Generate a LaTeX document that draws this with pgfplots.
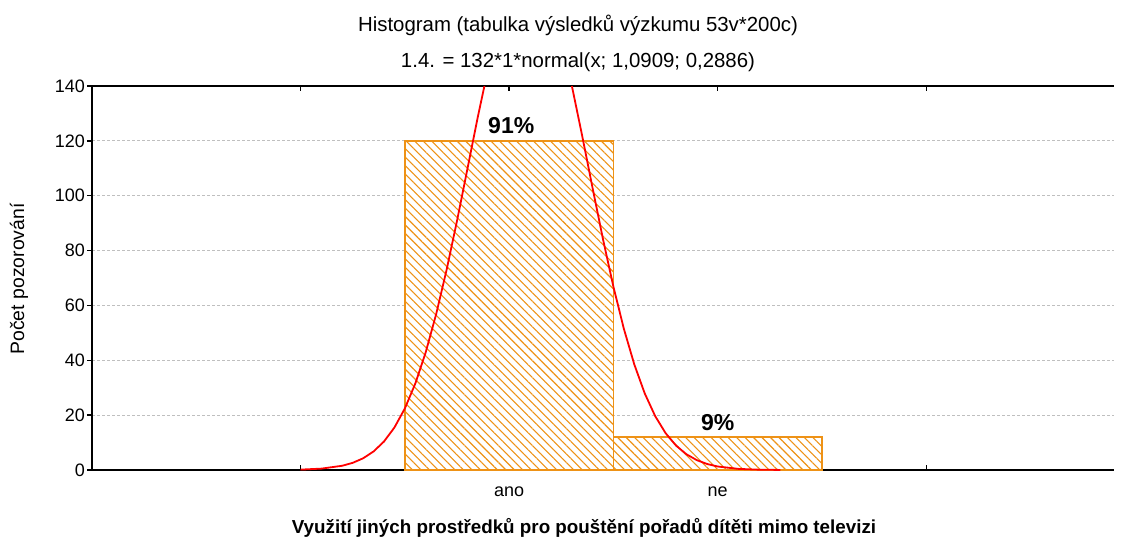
\documentclass[border=0pt]{standalone}
\usepackage{fontspec}
\setmainfont{Liberation Sans}
\usepackage{pgfplots}
\pgfplotsset{compat=1.18}
\usetikzlibrary{patterns.meta}
\definecolor{barorange}{RGB}{238,146,22}
\begin{document}
\begin{tikzpicture}
\useasboundingbox (0,0) rectangle (561pt,270.5pt);
\begin{axis}[
  at={(46pt,35.5pt)}, anchor=south west,
  scale only axis, width=511pt, height=192pt,
  xmin=-1, xmax=3.9, ymin=0, ymax=140,
  axis x line=box, axis y line=left,
  axis line style={-, line width=1pt, black},
  xtick={0,1,2,3}, xticklabels={,ano,ne,},
  ytick={0,20,...,140},
  tick align=inside, major tick length=2.5pt,
  tick style={black, line width=0.7pt},
  y tick style={xshift=-2.5pt},
  ymajorgrids, grid style={dash pattern=on 1.5pt off 1pt, black!25, line width=0.4pt},
  tick label style={font=\fontsize{9}{10}\selectfont},
  /pgf/number format/assume math mode=true,
  xticklabel style={yshift=-5pt},
]
\addplot[draw=barorange, line width=0.8pt, fill=white,
  postaction={pattern={Lines[angle=-45,distance=3pt,line width=0.55pt]}, pattern color=barorange}]
  coordinates {(0.5,120) (1.5,120)} \closedcycle;
\addplot[draw=barorange, line width=0.8pt, fill=white,
  postaction={pattern={Lines[angle=-45,distance=3pt,line width=0.55pt]}, pattern color=barorange}]
  coordinates {(1.5,12) (2.5,12)} \closedcycle;
\addplot[red, line width=0.9pt] coordinates {
(0,0.144) (0.1,0.503) (0.2,1.555) (0.25,2.615) (0.3,4.270) (0.35,6.763)
(0.4,10.39) (0.45,15.50) (0.5,22.43) (0.55,31.51) (0.6,42.93) (0.65,56.80) (0.7,72.92)
(0.75,90.83) (0.8,109.8) (0.85,128.8) (0.9,146.6) (0.95,162.0) (1.0,173.6) (1.05,180.6)
(1.0909,182.5) (1.15,178.7) (1.2,169.9) (1.25,156.7) (1.3,140.3) (1.35,121.9) (1.4,102.8)
(1.45,84.13) (1.5,66.80) (1.55,51.49) (1.6,38.50) (1.65,27.94) (1.7,19.67) (1.75,13.45)
(1.8,8.918) (1.85,5.739) (1.9,3.585) (1.95,2.173) (2.0,1.278) (2.1,0.404) (2.2,0.113)
(2.3,0.03)};
\node[font=\bfseries\fontsize{11.5}{12}\selectfont, anchor=base, yshift=3.5pt] at (axis cs:1.01,120) {91\%};
\node[font=\bfseries\fontsize{11.5}{12}\selectfont, anchor=base, yshift=3.5pt] at (axis cs:2.0,12) {9\%};
\end{axis}
\node[font=\fontsize{10.2}{12}\selectfont, anchor=base] at (289pt,254.5pt) {Histogram (tabulka výsledků výzkumu 53v*200c)};
\node[font=\fontsize{10.2}{12}\selectfont, anchor=base] at (289pt,236.5pt) {1.4. = 132*1*normal(x; 1,0909; 0,2886)};
\node[font=\fontsize{9.7}{11}\selectfont, rotate=90] at (9.5pt,131pt) {Počet pozorování};
\node[font=\bfseries\fontsize{9.4}{11}\selectfont, anchor=base] at (292pt,4pt) {Využití jiných prostředků pro pouštění pořadů dítěti mimo televizi};
\end{tikzpicture}
\end{document}
